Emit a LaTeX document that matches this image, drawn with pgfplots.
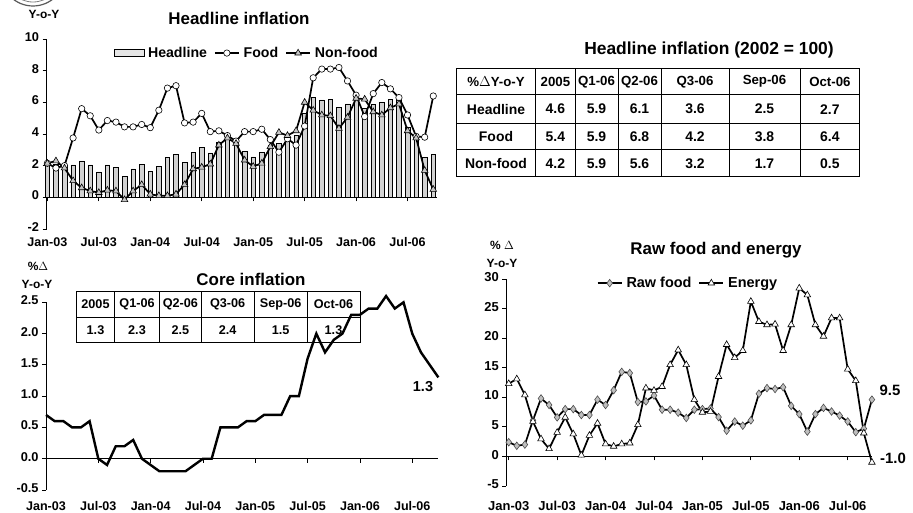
\documentclass[border=0pt]{standalone}
\usepackage{fontspec}
\setmainfont{Liberation Sans}
\usepackage{pgfplots}
\pgfplotsset{compat=1.18}
\usepackage{pgfplotstable}
\newcommand{\fs}[1]{\fontsize{#1}{#1}\selectfont\bfseries}

\pgfplotstableread{
i head food nonfood core raw energy
0 2.1 2.15 2.15 0.7 2.4 12.3
1 2.1 1.85 2.3 0.6 1.8 13.1
2 2.0 2.0 1.85 0.6 2.0 10.4
3 2.05 3.75 1.05 0.5 6.1 5.9
4 2.3 5.6 0.6 0.5 9.8 2.95
5 2.05 5.15 0.4 0.6 8.7 1.3
6 1.6 4.25 0.3 0.0 6.6 4.05
7 2.05 4.85 0.45 -0.1 8.0 6.6
8 1.9 4.75 0.4 0.2 8.0 3.8
9 1.3 4.45 -0.15 0.2 7.0 0.2
10 1.8 4.45 0.4 0.3 7.0 3.55
11 2.1 4.6 0.8 0.0 9.6 5.6
12 1.65 4.4 0.2 -0.1 8.7 2.1
13 1.95 5.5 0.1 -0.2 11.2 1.7
14 2.5 6.9 0.1 -0.2 14.3 2.1
15 2.7 7.05 0.2 -0.2 14.1 2.25
16 2.2 4.7 0.8 -0.2 9.2 5.35
17 2.85 4.75 1.8 -0.1 9.3 11.55
18 3.15 5.3 1.9 0.0 10.3 11.15
19 2.8 4.15 2.1 0.0 7.9 11.8
20 3.5 4.2 3.3 0.5 7.9 15.5
21 3.8 3.9 3.75 0.5 7.4 18.0
22 3.5 3.55 3.4 0.5 6.5 15.5
23 2.9 4.15 2.35 0.6 7.9 9.6
24 2.55 4.15 1.95 0.6 8.0 7.45
25 2.85 4.3 2.15 0.7 8.1 7.6
26 3.3 3.65 3.2 0.7 6.65 13.5
27 3.4 2.85 4.1 0.7 4.35 18.9
28 3.8 3.7 3.9 1.0 5.9 16.7
29 3.9 3.3 4.2 1.0 5.2 17.9
30 5.3 4.5 6.0 1.6 6.1 26.2
31 6.3 7.55 5.5 2.0 10.6 22.8
32 6.15 8.1 5.2 1.7 11.55 22.25
33 6.2 8.1 5.15 1.9 11.4 22.35
34 5.7 8.2 4.35 2.0 11.7 17.9
35 5.9 7.35 5.05 2.3 8.55 22.25
36 6.2 6.45 6.25 2.3 7.15 28.45
37 5.6 5.1 6.2 2.4 4.2 27.3
38 5.85 6.55 5.4 2.4 7.15 22.25
39 6.0 7.25 5.2 2.6 8.2 20.3
40 6.2 6.85 5.65 2.4 7.6 23.4
41 6.15 6.3 5.9 2.5 6.9 23.4
42 4.4 5.2 4.2 2.0 5.9 14.75
43 3.9 3.85 3.75 1.7 4.1 12.8
44 2.5 3.8 1.7 1.5 4.7 3.95
45 2.7 6.4 0.5 1.3 9.6 -1.0
}\data

\pgfplotsset{
  mychart/.style={
    scale only axis, anchor=south west,
    axis x line=middle, axis y line=left,
    hide obscured x ticks=false, hide obscured y ticks=false,
    axis line style={-, line width=0.8bp, black},
    every tick/.style={black, line width=0.8bp},
    major tick length=4bp, tick align=outside,
    xtick={0,6,...,42},
    xticklabels={Jan-03,Jul-03,Jan-04,Jul-04,Jan-05,Jul-05,Jan-06,Jul-06},
    typeset ticklabels with strut,
    /pgf/number format/assume math mode=true,
    clip=false,
    legend image code/.code={\draw[mark repeat=2,mark phase=2,##1] plot coordinates {(0bp,0bp) (12bp,0bp) (24bp,0bp)};},
  },
  blk/.style={black, line width=1.7bp},
}

\begin{document}
\begin{tikzpicture}
\useasboundingbox (0,0) rectangle (913bp,513bp);

% ---------- tables and text (image coordinates) ----------
\begin{scope}[x=1bp,y=-1bp,shift={(0bp,513bp)}]
  % logo fragment
  \draw[gray!70!black, line width=1.2bp] (33,-26) ellipse (32 and 32);
  \draw[gray, line width=0.8bp] (33,-26) ellipse (28 and 28);
  \node[font=\fs{12}] at (44,14) {Y-o-Y};
  \node[font=\fs{17}] at (239,18) {Headline inflation};
  % headline table
  \node[font=\fs{17.5}] at (709,50) {Headline inflation (2002 = 100)};
  \draw[line width=1bp] (456.3,68.3) rectangle (859.7,176.7);
  \foreach \yy in {95,123.3,150} \draw[line width=1bp] (456.3,\yy) -- (859.7,\yy);
  \foreach \xx in {535.7,575,618,661,729,800} \draw[line width=1bp] (\xx,68.3) -- (\xx,176.7);
  \begin{scope}[every node/.style={font=\fs{13.3}}]
    \node at (496,81.7) {\%$\Delta$Y-o-Y};
    \node at (555.4,81.7) {2005}; \node at (596.5,81.7) {Q1-06}; \node at (639.5,81.7) {Q2-06};
    \node at (695,81.7) {Q3-06}; \node at (764.5,81.7) {Sep-06}; \node at (829.9,81.7) {Oct-06};
  \end{scope}
  \begin{scope}[every node/.style={font=\fs{14}}]
    \node at (496,109.2) {Headline}; \node at (555.4,109.2) {4.6}; \node at (596.5,109.2) {5.9}; \node at (639.5,109.2) {6.1};
    \node at (695,109.2) {3.6}; \node at (764.5,109.2) {2.5}; \node at (829.9,109.2) {2.7};
    \node at (496,136.7) {Food}; \node at (555.4,136.7) {5.4}; \node at (596.5,136.7) {5.9}; \node at (639.5,136.7) {6.8};
    \node at (695,136.7) {4.2}; \node at (764.5,136.7) {3.8}; \node at (829.9,136.7) {6.4};
    \node at (496,163.3) {Non-food}; \node at (555.4,163.3) {4.2}; \node at (596.5,163.3) {5.9}; \node at (639.5,163.3) {5.6};
    \node at (695,163.3) {3.2}; \node at (764.5,163.3) {1.7}; \node at (829.9,163.3) {0.5};
  \end{scope}
  % core
  \node[font=\fs{12}] at (38,266) {\%$\Delta$};
  \node[font=\fs{12}] at (37,284) {Y-o-Y};
  \node[font=\fs{17}] at (251,279) {Core inflation};
  \draw[line width=1bp] (76.7,291.7) rectangle (360,342.3);
  \draw[line width=1bp] (76.7,317.3) -- (360,317.3);
  \foreach \xx in {114.3,159.8,201,254.3,307} \draw[line width=1bp] (\xx,291.7) -- (\xx,342.3);
  \begin{scope}[every node/.style={font=\fs{12.7}}]
    \node at (95.5,304.5) {2005}; \node at (137,304.5) {Q1-06}; \node at (180.4,304.5) {Q2-06};
    \node at (227.7,304.5) {Q3-06}; \node at (280.7,304.5) {Sep-06}; \node at (333.5,304.5) {Oct-06};
    \node at (95.5,329.8) {1.3}; \node at (137,329.8) {2.3}; \node at (180.4,329.8) {2.5};
    \node at (227.7,329.8) {2.4}; \node at (280.7,329.8) {1.5}; \node at (333.5,329.8) {1.3};
  \end{scope}
  \node[font=\fs{14.5}] at (423,387) {1.3};
  % raw food
  \node[font=\fs{12}] at (502,245) {\% $\Delta$};
  \node[font=\fs{12}] at (502,263) {Y-o-Y};
  \node[font=\fs{17}] at (716,250) {Raw food and energy};
  \node[font=\fs{15}] at (890,390) {9.5};
  \node[font=\fs{15}] at (893,458) {-1.0};
\end{scope}

% ---------- Headline inflation ----------
\begin{axis}[mychart, at={(46.5bp,284bp)}, width=390.2bp, height=190bp,
  xmin=-0.1, xmax=45.4, ymin=-2, ymax=10, ytick={-2,0,...,10},
  xticklabel style={font=\fs{12.6}, yshift=-33bp},
  yticklabel style={font=\fs{12.8}},
  legend style={at={(0.513,0.926)}, anchor=center, draw=none, fill=none,
    legend columns=3, font=\fs{14.2}, inner sep=0pt,
    /tikz/every odd column/.append style={column sep=2bp},
    /tikz/every even column/.append style={column sep=5bp}},
]
\addplot[ybar, bar width=4.5bp, fill=gray!35, draw=black, line width=0.5bp,
  legend image code/.code={\draw[fill=gray!20,draw=black,line width=0.5bp] (0bp,-3.5bp) rectangle (30bp,3.5bp);}]
  table[x=i,y=head] {\data};
\addlegendentry{Headline}
\addplot[blk, mark=*, mark size=3.2bp, mark options={fill=white, draw=black, line width=0.6bp}]
  table[x=i,y=food] {\data};
\addlegendentry{Food}
\addplot[blk, mark=triangle*, mark size=3.8bp, mark options={fill=gray!45, draw=black, line width=0.6bp}]
  table[x=i,y=nonfood] {\data};
\addlegendentry{Non-food}
\end{axis}

% ---------- Core inflation ----------
\begin{axis}[mychart, at={(46bp,23bp)}, width=392.4bp, height=187.7bp,
  xmin=0, xmax=45, ymin=-0.5, ymax=2.5, ytick={-0.5,0,0.5,1,1.5,2,2.5},
  yticklabel style={font=\fs{12.8}, /pgf/number format/.cd, fixed, fixed zerofill, precision=1},
  xticklabel style={font=\fs{12.6}, yshift=-35.5bp},
]
\addplot[blk, line width=2.4bp] table[x=i,y=core] {\data};
\end{axis}

% ---------- Raw food and energy ----------
\begin{axis}[mychart, at={(506.3bp,27bp)}, width=365.6bp, height=207bp,
  xmin=-0.3, xmax=45, ymin=-5, ymax=30, ytick={-5,0,...,30},
  xticklabel style={font=\fs{13}, yshift=-37bp},
  yticklabel style={font=\fs{13}},
  legend style={at={(0.497,0.98)}, anchor=center, draw=none, fill=none,
    legend columns=2, font=\fs{14.5}, inner sep=0pt,
    /tikz/every odd column/.append style={column sep=2bp},
    /tikz/every even column/.append style={column sep=5bp}},
]
\addplot[blk, mark=diamond*, mark size=3.8bp, mark options={fill=gray!50, draw=gray!60!black, line width=0.6bp}]
  table[x=i,y=raw] {\data};
\addlegendentry{Raw food}
\addplot[blk, mark=triangle*, mark size=3.8bp, mark options={fill=white, draw=black, line width=0.6bp}]
  table[x=i,y=energy] {\data};
\addlegendentry{Energy}
\end{axis}
\end{tikzpicture}
\end{document}
